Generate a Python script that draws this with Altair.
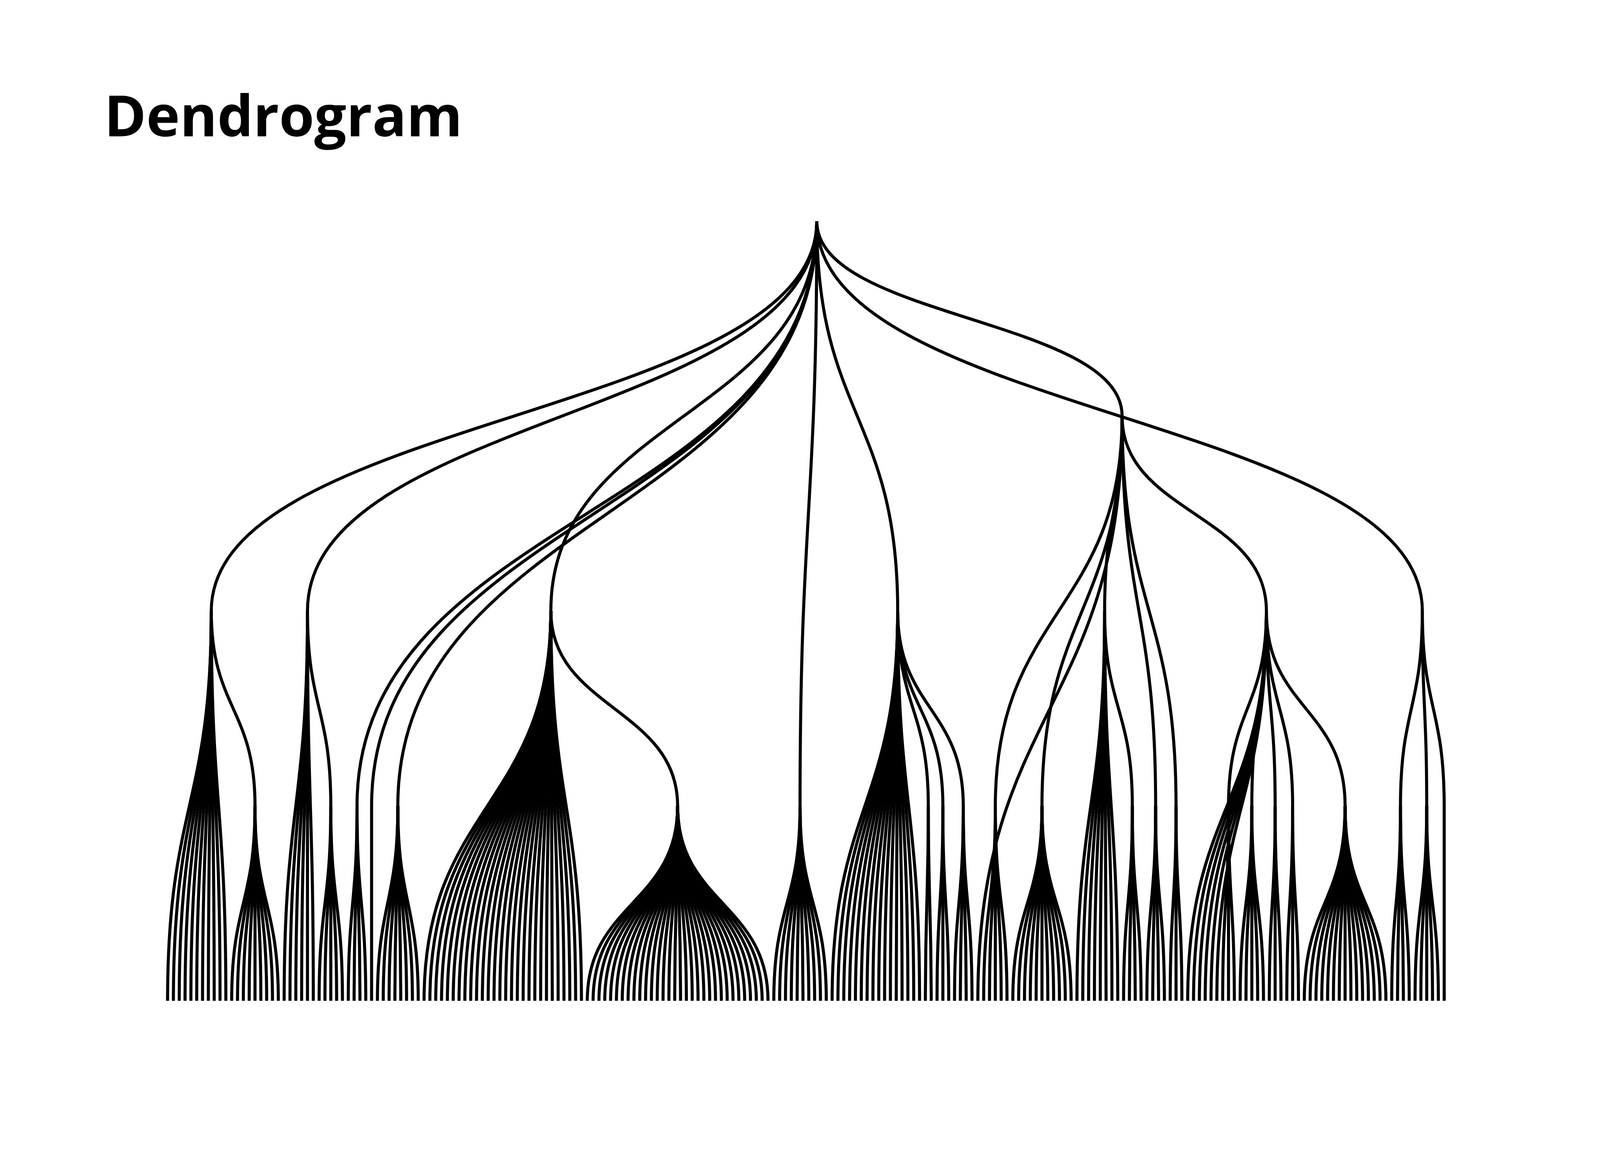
import altair as alt
import pandas as pd

TITLE = "Dendrogram"

# flare class hierarchy, children in the order they appear left to right
ANIMATE = ["Easing", "FunctionSequence", "ISchedulable", "Parallel", "Pause",
           "Scheduler", "Sequence", "Transition", "TransitionEvent",
           "Transitioner", "Tween"]
ANIMATE_INTERPOLATE = ["ArrayInterpolator", "ColorInterpolator", "DateInterpolator",
                       "Interpolator", "MatrixInterpolator", "NumberInterpolator",
                       "ObjectInterpolator", "PointInterpolator", "RectangleInterpolator"]
DATA = ["DataField", "DataSchema", "DataSet", "DataSource", "DataTable", "DataUtil"]
DATA_CONVERTERS = ["Converters", "DelimitedTextConverter", "GraphMLConverter",
                   "IDataConverter", "JSONConverter"]
DISPLAY = ["DirtySprite", "LineSprite", "RectSprite", "TextSprite"]
FLEX = ["FlareVis"]
PHYSICS = ["DragForce", "GravityForce", "IForce", "NBodyForce", "Particle",
           "Simulation", "Spring", "SpringForce"]
QUERY = ["AggregateExpression", "And", "Arithmetic", "Average", "BinaryExpression",
         "Comparison", "CompositeExpression", "Count", "DateUtil", "Distinct",
         "Expression", "ExpressionIterator", "Fn", "If", "IsA", "Literal", "Match",
         "Maximum", "Minimum", "Not", "Or", "Query", "Range", "StringUtil", "Sum",
         "Variable", "Variance", "Xor"]
QUERY_METHODS = ["add", "and", "average", "count", "distinct", "div", "eq", "fn",
                 "gt", "gte", "iff", "isa", "lt", "lte", "max", "min", "mod", "mul",
                 "neq", "not", "or", "orderby", "range", "select", "stddev", "sub",
                 "sum", "update", "variance", "where", "xor", "_"]
SCALE = ["AbstractScale", "IScaleMap", "LinearScale", "LogScale", "OrdinalScale",
         "QuantileScale", "QuantitativeScale", "RootScale", "Scale", "TimeScale"]
UTIL = ["Arrays", "Colors", "Dates", "Displays", "Filter", "Geometry", "IEvaluable",
        "IPredicate", "IValueProxy", "Maths", "Orientation", "Property", "Shapes",
        "Sort", "Stats", "Strings"]
UTIL_HEAP = ["FibonacciHeap", "HeapNode"]
UTIL_MATH = ["DenseMatrix", "IMatrix", "SparseMatrix"]
UTIL_PALETTE = ["ColorPalette", "Palette", "ShapePalette", "SizePalette"]
VIS = ["Visualization"]
VIS_AXIS = ["Axes", "Axis", "AxisGridLine", "AxisLabel", "CartesianAxes"]
VIS_CONTROLS = ["AnchorControl", "ClickControl", "Control", "ControlList",
                "DragControl", "ExpandControl", "HoverControl", "IControl",
                "PanZoomControl", "SelectionControl", "TooltipControl"]
VIS_DATA = ["Data", "DataList", "DataSprite", "EdgeSprite", "NodeSprite",
            "ScaleBinding", "Tree", "TreeBuilder"]
VIS_DATA_RENDER = ["ArrowType", "EdgeRenderer", "IRenderer", "ShapeRenderer"]
VIS_EVENTS = ["DataEvent", "SelectionEvent", "TooltipEvent", "VisualizationEvent"]
VIS_LEGEND = ["Legend", "LegendItem", "LegendRange"]
VIS_OPERATOR = ["IOperator", "Operator", "OperatorList", "OperatorSequence",
                "OperatorSwitch", "SortOperator"]
VIS_OPERATOR_DISTORTION = ["BifocalDistortion", "Distortion", "FisheyeDistortion"]
VIS_OPERATOR_ENCODER = ["ColorEncoder", "Encoder", "PropertyEncoder",
                        "ShapeEncoder", "SizeEncoder"]
VIS_OPERATOR_FILTER = ["FisheyeTreeFilter", "GraphDistanceFilter", "VisibilityFilter"]
VIS_OPERATOR_LABEL = ["Labeler", "RadialLabeler", "StackedAreaLabeler"]
VIS_OPERATOR_LAYOUT = ["AxisLayout", "BundledEdgeRouter", "CircleLayout",
                       "CirclePackingLayout", "DendrogramLayout", "ForceDirectedLayout",
                       "IcicleTreeLayout", "IndentedTreeLayout", "Layout",
                       "NodeLinkTreeLayout", "PieLayout", "RadialTreeLayout",
                       "RandomLayout", "StackedAreaLayout", "TreeMapLayout"]
ANALYTICS_CLUSTER = ["AgglomerativeCluster", "CommunityStructure",
                     "HierarchicalCluster", "MergeEdge"]
ANALYTICS_GRAPH = ["BetweennessCentrality", "LinkDistance", "MaxFlowMinCut",
                   "ShortestPaths", "SpanningTree"]
ANALYTICS_OPTIMIZATION = ["AspectRatioBanker"]

TREE = ("flare", [
    ("animate", ANIMATE + [("interpolate", ANIMATE_INTERPOLATE)]),
    ("data", DATA + [("converters", DATA_CONVERTERS)]),
    ("display", DISPLAY),
    ("flex", FLEX),
    ("physics", PHYSICS),
    ("query", QUERY + [("methods", QUERY_METHODS)]),
    ("scale", SCALE),
    ("util", UTIL + [("heap", UTIL_HEAP), ("math", UTIL_MATH),
                     ("palette", UTIL_PALETTE)]),
    ("vis", VIS + [
        ("axis", VIS_AXIS),
        ("controls", VIS_CONTROLS),
        ("data", VIS_DATA + [("render", VIS_DATA_RENDER)]),
        ("events", VIS_EVENTS),
        ("legend", VIS_LEGEND),
        ("operator", VIS_OPERATOR + [
            ("distortion", VIS_OPERATOR_DISTORTION),
            ("encoder", VIS_OPERATOR_ENCODER),
            ("filter", VIS_OPERATOR_FILTER),
            ("label", VIS_OPERATOR_LABEL),
            ("layout", VIS_OPERATOR_LAYOUT),
        ]),
    ]),
    ("analytics", [("cluster", ANALYTICS_CLUSTER), ("graph", ANALYTICS_GRAPH),
                   ("optimization", ANALYTICS_OPTIMIZATION)]),
])


def place(node, counter, links):
    """Cluster layout: leaves side by side, parents centred over first/last child,
    vertical position = height above the leaves."""
    if isinstance(node, str):
        x = counter[0]
        counter[0] += 1
        return x, 0
    name, kids = node
    pos = [place(k, counter, links) for k in kids]
    x = (pos[0][0] + pos[-1][0]) / 2
    h = 1 + max(p[1] for p in pos)
    for cx, ch in pos:
        links.append((x, h, cx, ch))
    return x, h


def link_table(tree):
    counter = [0]
    links = []
    _, root_h = place(tree, counter, links)
    rows = []
    for i, (xs, hs, xt, ht) in enumerate(links):
        ym = (hs + ht) / 2
        # B-spline control points whose open-basis curve is the vertical
        # link bezier (xs,hs) -> (xs,ym) -> (xt,ym) -> (xt,ht)
        pts = [(2 * xt - xs, 6 * hs - 5 * ym),
               (2 * xs - xt, ym),
               (2 * xt - xs, ym),
               (2 * xs - xt, 6 * ht - 5 * ym)]
        for k, (px, py) in enumerate(pts):
            rows.append({"link": i, "k": k, "x": px, "h": py})
    return pd.DataFrame(rows), counter[0], root_h


links_df, n_leaves, root_h = link_table(TREE)

links = alt.Chart(links_df).mark_line(
    interpolate="basis-open",
    color="#000000",
    strokeWidth=8
).encode(
    x=alt.X("x:Q", scale=alt.Scale(domain=[0, n_leaves - 1]), axis=None),
    y=alt.Y("h:Q", scale=alt.Scale(domain=[0, root_h]), axis=None),
    detail="link:N",
    order="k:Q"
)

title = alt.Chart(pd.DataFrame({"label": [TITLE]})).mark_text(
    align="left",
    baseline="alphabetic",
    font="Open Sans",
    fontWeight="bold",
    fontSize=149,
    color="#000000"
).encode(
    text="label:N",
    x=alt.value(-166),
    y=alt.value(-222)
)

chart = alt.layer(links, title).properties(
    width=3344.5,
    height=2042.5,
    padding={"left": 430.8, "top": 536.7, "right": 400, "bottom": 360},
    autosize=alt.AutoSizeParams(type="none")
).configure(
    background="white"
).configure_view(
    strokeWidth=0
)

chart.save("out.html", embed_options={"renderer": "svg", "actions": False})
